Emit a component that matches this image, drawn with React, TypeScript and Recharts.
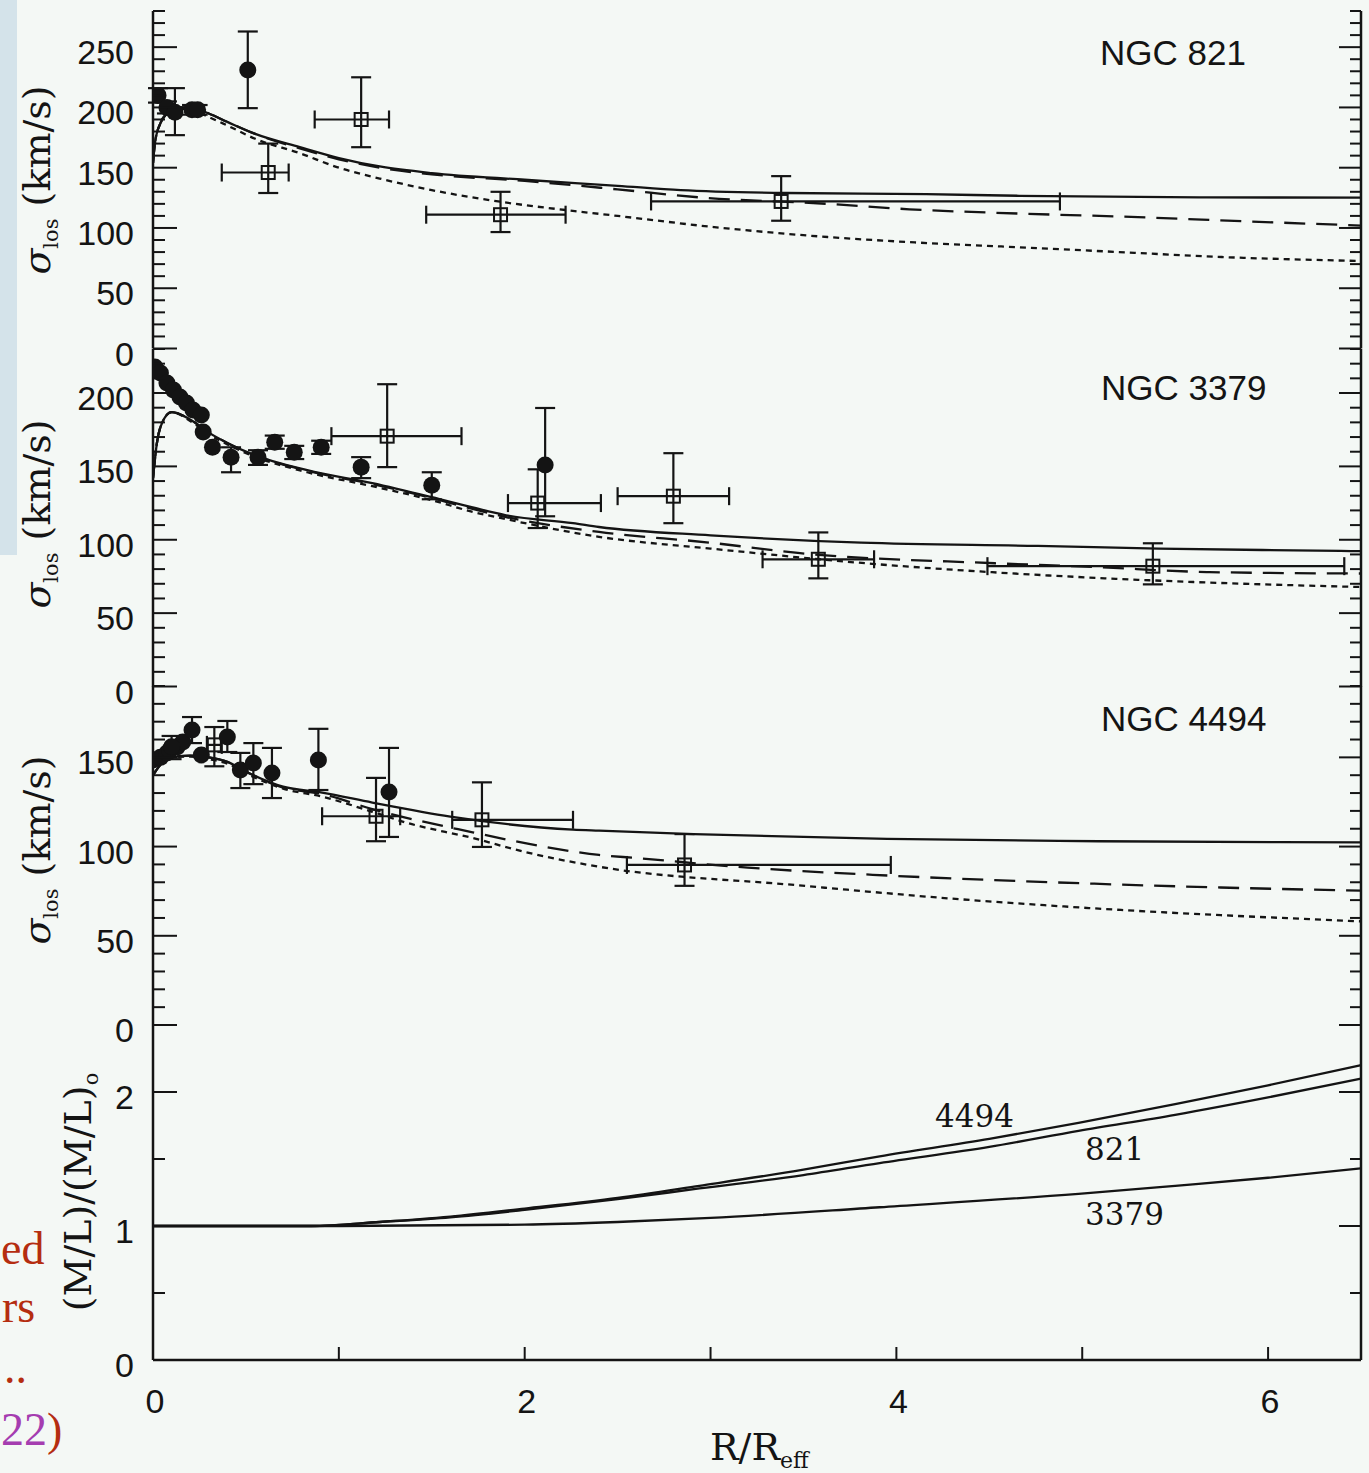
import React from "react";
import { ComposedChart, Line, Scatter, XAxis, YAxis, ErrorBar } from "recharts";

/* page / style constants */
const W = 1369;
const H = 1473;
const INK = "#141414";
const BG = "#f4f8f5";
const SANS = "'Liberation Sans', Arial, sans-serif";
const SERIF = "'DejaVu Serif', serif";
const RED = "#b52d10";
const PURPLE = "#a53db0";

/* shared x axis: R / Reff */
const rTicks = [0, 1, 2, 3, 4, 5, 6];
const rLabels = [0, 2, 4, 6];

/* ---------- NGC 821 ---------- */
const ticks821 = [0, 10, 20, 30, 40, 50, 60, 70, 80, 90, 100, 110, 120, 130, 140, 150, 160, 170, 180, 190, 200, 210, 220, 230, 240, 250, 260, 270, 280];
const labels821 = [0, 50, 100, 150, 200, 250];
const solid821 = [[0, 154], [0.01, 170], [0.04, 187], [0.075, 195], [0.12, 200], [0.2, 200], [0.3, 195], [0.4, 188], [0.55, 178], [0.79, 167], [1.0, 158], [1.22, 151], [1.5, 145.5], [2, 140], [2.5, 135], [2.84, 131.4], [3.41, 129], [4.16, 128], [4.66, 126.7], [5.67, 125.4], [6.5, 125.2]];
const dashed821 = [[0, 154], [0.01, 170], [0.04, 187], [0.075, 195], [0.12, 200], [0.2, 200], [0.3, 195], [0.4, 188], [0.55, 178], [0.79, 166], [1.0, 157], [1.22, 150], [1.5, 144.5], [2, 139], [2.5, 132], [2.97, 125], [3.63, 120], [4.07, 115.5], [4.65, 112], [5.3, 109], [5.88, 105.5], [6.5, 102]];
const dotted821 = [[0, 154], [0.01, 170], [0.04, 187], [0.075, 195], [0.12, 199], [0.2, 198], [0.3, 192], [0.4, 185], [0.55, 174], [0.79, 162], [1.0, 150], [1.22, 141], [1.5, 131.4], [1.88, 121.5], [2.27, 114], [2.5, 110], [3.02, 100.7], [3.63, 92.5], [4.1, 88], [4.66, 84], [5.2, 80], [5.75, 75.9], [6.5, 72.6]];
// filled circles: [R, sigma, low, high]
const circles821 = [[0.027, 210, 204, 216], [0.075, 200, 195, 205], [0.118, 196, 177, 216], [0.21, 198, 194, 202], [0.24, 198, 194, 202], [0.51, 231, 199.4, 263]];
// open squares: [R, sigma, Rlow, Rhigh, low, high]
const squares821 = [[0.62, 146, 0.37, 0.73, 129, 170], [1.12, 190, 0.87, 1.27, 167, 225], [1.87, 111, 1.47, 2.22, 96.6, 130], [3.38, 122, 2.68, 4.88, 106, 143]];

/* ---------- NGC 3379 ---------- */
const ticks3379 = [0, 10, 20, 30, 40, 50, 60, 70, 80, 90, 100, 110, 120, 130, 140, 150, 160, 170, 180, 190, 200, 210, 220, 230];
const labels3379 = [0, 50, 100, 150, 200];
const solid3379 = [[0, 142], [0.02, 165], [0.05, 180], [0.1, 187], [0.2, 182], [0.3, 173], [0.4, 166], [0.52, 159], [0.83, 147.4], [1.18, 138.6], [1.5, 129], [1.72, 122], [1.9, 116.7], [2.26, 111.3], [2.4, 108.7], [3, 103], [3.81, 98], [4.76, 95.8], [5.41, 94], [6.39, 92.4], [6.5, 92.2]];
const dashed3379 = [[0, 142], [0.02, 165], [0.05, 180], [0.1, 187], [0.2, 182], [0.3, 173], [0.4, 166], [0.52, 159], [0.83, 147], [1.18, 138], [1.5, 128.5], [1.72, 121], [1.9, 115.5], [2.4, 105.3], [3, 98], [3.47, 91], [4.53, 84], [5.06, 81.5], [5.67, 78], [6.5, 77]];
const dotted3379 = [[0, 142], [0.02, 165], [0.05, 180], [0.1, 187], [0.2, 181], [0.3, 172], [0.4, 165], [0.52, 158], [0.83, 146], [1.18, 136.5], [1.5, 127], [1.72, 119], [1.9, 114], [2.4, 102], [3, 94], [3.87, 83.6], [4.8, 75.8], [5.6, 71.2], [6.5, 67.8]];
const dotsOnly3379 = [[0.01, 217.7], [0.04, 213.7], [0.075, 206.8], [0.11, 202], [0.145, 197.3], [0.18, 193.2], [0.215, 188.4], [0.26, 185], [0.27, 173.4], [0.32, 163]];
const circles3379 = [[0.42, 156.3, 146, 163], [0.565, 156.3, 151, 161], [0.655, 166.5, 162, 171], [0.76, 159.7, 155, 164], [0.905, 163, 158.5, 167.5], [1.12, 149.5, 142, 156.3], [1.5, 137.2, 127.6, 146], [2.11, 150.9, 116, 189.8]];
const squares3379 = [[1.26, 170.6, 0.96, 1.66, 149.5, 206], [2.07, 125, 1.91, 2.41, 108, 148], [2.8, 129.7, 2.5, 3.1, 111.3, 159], [3.58, 86.7, 3.28, 3.88, 73.7, 105], [5.38, 82, 4.49, 6.41, 69.6, 97.6]];

/* ---------- NGC 4494 ---------- */
const ticks4494 = [0, 10, 20, 30, 40, 50, 60, 70, 80, 90, 100, 110, 120, 130, 140, 150, 160, 170, 180, 190];
const labels4494 = [0, 50, 100, 150];
const solid4494 = [[0, 140], [0.05, 147], [0.1, 150], [0.2, 151], [0.3, 150], [0.4, 147.5], [0.52, 141], [0.7, 133.6], [0.91, 130.3], [1.18, 124.7], [1.6, 116.8], [2.26, 109.5], [2.4, 108.9], [2.91, 107], [3.95, 104.3], [5.09, 103], [6.5, 102.4]];
const dashed4494 = [[0, 140], [0.05, 147], [0.1, 150], [0.2, 151], [0.3, 150], [0.4, 147.5], [0.52, 141], [0.7, 133], [0.91, 129.5], [1.18, 121], [1.72, 108], [2.1, 100], [2.4, 95.3], [2.6, 93.6], [3.2, 88.2], [3.97, 83.7], [5.06, 79.2], [6.4, 75.5], [6.5, 75.3]];
const dotted4494 = [[0, 140], [0.05, 147], [0.1, 150], [0.2, 150.5], [0.3, 149], [0.4, 146.5], [0.52, 140], [0.7, 132.5], [0.91, 128], [1.18, 119.5], [1.37, 113.2], [1.72, 104.8], [2.0, 97], [2.4, 88.7], [3.47, 78.3], [4.34, 70.5], [5.06, 65.4], [6.5, 58.1]];
const dotsOnly4494 = [[0, 148.5], [0.04, 150], [0.075, 152.5], [0.09, 154], [0.13, 155.8], [0.16, 158.6], [0.26, 151.3]];
const circles4494 = [[0.1, 156, 149, 162], [0.21, 165.4, 158, 172.6], [0.4, 161.4, 153, 170.4], [0.47, 142.9, 132.8, 152.5], [0.54, 146.9, 135, 158], [0.64, 141.3, 127.2, 155.3], [0.89, 148.5, 131.7, 166], [1.27, 130.6, 105.4, 155.3]];
const squares4494 = [[0.33, 157, 0.29, 0.37, 145, 167], [1.2, 117, 0.91, 1.33, 103, 138.5], [1.77, 115, 1.61, 2.26, 99.8, 136], [2.86, 89.7, 2.55, 3.97, 78, 107]];

/* ---------- (M/L)/(M/L)o ---------- */
const ticksML = [0, 0.5, 1, 1.5, 2, 2.5];
const labelsML = [0, 1, 2];
const ml4494 = [[0, 1], [0.85, 1], [1.22, 1.03], [1.6, 1.07], [2, 1.13], [2.5, 1.21], [2.94, 1.3], [3.5, 1.42], [3.91, 1.52], [4.5, 1.65], [4.98, 1.77], [5.5, 1.91], [6, 2.05], [6.5, 2.2]];
const ml821 = [[0, 1], [0.85, 1], [1.22, 1.03], [1.6, 1.065], [2, 1.12], [2.5, 1.2], [2.94, 1.28], [3.5, 1.38], [3.91, 1.47], [4.5, 1.59], [4.98, 1.71], [5.5, 1.83], [6, 1.96], [6.5, 2.1]];
const ml3379 = [[0, 1], [1, 1], [2, 1.01], [2.5, 1.03], [3, 1.06], [3.91, 1.14], [4.98, 1.24], [5.5, 1.3], [6, 1.36], [6.5, 1.43]];

/* data helpers */
const toLine = (a: number[][]) => a.map(([r, v]) => ({ r, v }));
const toDots = (a: number[][]) => a.map(([r, v, lo, hi]) => ({ r, v, ey: [v - lo, hi - v] }));
const toBoxes = (a: number[][]) =>
  a.map(([r, v, r0, r1, lo, hi]) => ({ r, v, ex: [r - r0, r1 - r], ey: [v - lo, hi - v] }));

/* marker shapes */
const DotShape = (p: any) => <circle cx={p.cx} cy={p.cy} r={8.5} fill={INK} />;
const BoxShape = (p: any) => (
  <rect x={p.cx - 6.5} y={p.cy - 6.5} width={13} height={13} fill="none" stroke={INK} strokeWidth={2} />
);

/* inward ticks */
const leftTick = (labels: number[]) => (p: any) => {
  const v = p.payload.value;
  const major = labels.includes(v);
  return (
    <g>
      <line x1={p.x} x2={p.x + (major ? 24 : 12)} y1={p.y} y2={p.y} stroke={INK} strokeWidth={2} />
      {major ? (
        <text x={p.x - 19} y={p.y + 17} textAnchor="end" fontFamily={SANS} fontSize={34} fill={INK}>
          {v}
        </text>
      ) : null}
    </g>
  );
};
const rightTick = (labels: number[]) => (p: any) => {
  const major = labels.includes(p.payload.value);
  return <line x1={p.x} x2={p.x - (major ? 22 : 11)} y1={p.y} y2={p.y} stroke={INK} strokeWidth={2} />;
};
const bottomTick = (withLabels: boolean) => (p: any) => {
  const v = p.payload.value;
  return (
    <g>
      <line x1={p.x} x2={p.x} y1={p.y} y2={p.y - 13} stroke={INK} strokeWidth={2} />
      {withLabels && rLabels.includes(v) ? (
        <text x={p.x + 2} y={p.y + 53} textAnchor="middle" fontFamily={SANS} fontSize={34} fill={INK}>
          {v}
        </text>
      ) : null}
    </g>
  );
};
const topTick = (p: any) => <line x1={p.x} x2={p.x} y1={p.y} y2={p.y + 13} stroke={INK} strokeWidth={2} />;

const frame = { stroke: INK, strokeWidth: 2.5 };

function Panel({
  top,
  h,
  max,
  yTicks,
  yLabels,
  last = false,
  children,
}: {
  top: number;
  h: number;
  max: number;
  yTicks: number[];
  yLabels: number[];
  last?: boolean;
  children: React.ReactNode;
}) {
  const pad = 30;
  const xh = last ? 100 : 0;
  const bottom = last ? 0 : pad;
  return (
    <div style={{ position: "absolute", left: 0, top: top - pad }}>
      <ComposedChart width={W} height={pad + h + bottom + xh} margin={{ top: pad, right: 0, bottom, left: 0 }}>
        <XAxis
          dataKey="r"
          type="number"
          domain={[0, 6.5]}
          ticks={rTicks}
          interval={0}
          allowDataOverflow
          height={xh}
          tickSize={0}
          tickMargin={0}
          tickLine={false}
          axisLine={frame}
          tick={bottomTick(last)}
        />
        <XAxis
          xAxisId="top"
          orientation="top"
          type="number"
          domain={[0, 6.5]}
          ticks={rTicks}
          interval={0}
          allowDataOverflow
          height={0}
          tickSize={0}
          tickMargin={0}
          tickLine={false}
          axisLine={frame}
          tick={topTick}
        />
        <YAxis
          dataKey="v"
          type="number"
          domain={[0, max]}
          ticks={yTicks}
          interval={0}
          allowDataOverflow
          width={153}
          tickSize={0}
          tickMargin={0}
          tickLine={false}
          axisLine={frame}
          tick={leftTick(yLabels)}
        />
        <YAxis
          yAxisId="right"
          orientation="right"
          type="number"
          domain={[0, max]}
          ticks={yTicks}
          interval={0}
          allowDataOverflow
          width={8}
          tickSize={0}
          tickMargin={0}
          tickLine={false}
          axisLine={frame}
          tick={rightTick(yLabels)}
        />
        {children}
      </ComposedChart>
    </div>
  );
}

const modelLine = (key: string, pts: number[][], dash?: string) => (
  <Line
    key={key}
    data={toLine(pts)}
    dataKey="v"
    type="monotone"
    stroke={INK}
    strokeWidth={2.3}
    strokeDasharray={dash}
    dot={false}
    activeDot={false}
    isAnimationActive={false}
  />
);

const dotSeries = (key: string, pts: number[][]) => (
  <Scatter key={key} data={toDots(pts)} dataKey="v" shape={DotShape} isAnimationActive={false}>
    <ErrorBar dataKey="ey" direction="y" width={10} stroke={INK} strokeWidth={2.2} isAnimationActive={false} />
  </Scatter>
);

const plainDots = (key: string, pts: number[][]) => (
  <Scatter key={key} data={toLine(pts)} dataKey="v" shape={DotShape} isAnimationActive={false} />
);

const boxSeries = (key: string, pts: number[][]) => (
  <Scatter key={key} data={toBoxes(pts)} dataKey="v" shape={BoxShape} isAnimationActive={false}>
    <ErrorBar dataKey="ey" direction="y" width={10} stroke={INK} strokeWidth={2.2} isAnimationActive={false} />
    <ErrorBar dataKey="ex" direction="x" width={9} stroke={INK} strokeWidth={2.2} isAnimationActive={false} />
  </Scatter>
);

const LONG = "21 11";
const SHORT = "6 5";

function SigmaLabel({ cy }: { cy: number }) {
  return (
    <text transform={`translate(50 ${cy}) rotate(-90)`} textAnchor="middle" fontFamily={SERIF} fontSize={38} fill={INK}>
      <tspan fontStyle="italic">σ</tspan>
      <tspan fontSize={21} dy={8}>los</tspan>
      <tspan dy={-8}> (km/s)</tspan>
    </text>
  );
}

export default function App() {
  return (
    <div style={{ position: "absolute", left: 0, top: 0, width: W, height: H, background: BG, overflow: "hidden" }}>
      <div style={{ position: "absolute", left: 0, top: 0, width: 17, height: 555, background: "#d4e3ea" }} />

      <Panel top={11} h={337.5} max={280} yTicks={ticks821} yLabels={labels821}>
        {modelLine("s821", solid821)}
        {modelLine("d821", dashed821, LONG)}
        {modelLine("o821", dotted821, SHORT)}
        {boxSeries("b821", squares821)}
        {dotSeries("c821", circles821)}
      </Panel>

      <Panel top={348.5} h={337.5} max={230} yTicks={ticks3379} yLabels={labels3379}>
        {modelLine("s3379", solid3379)}
        {modelLine("d3379", dashed3379, LONG)}
        {modelLine("o3379", dotted3379, SHORT)}
        {boxSeries("b3379", squares3379)}
        {plainDots("p3379", dotsOnly3379)}
        {dotSeries("c3379", circles3379)}
      </Panel>

      <Panel top={686} h={339} max={190} yTicks={ticks4494} yLabels={labels4494}>
        {modelLine("s4494", solid4494)}
        {modelLine("d4494", dashed4494, LONG)}
        {modelLine("o4494", dotted4494, SHORT)}
        {boxSeries("b4494", squares4494)}
        {plainDots("p4494", dotsOnly4494)}
        {dotSeries("c4494", circles4494)}
      </Panel>

      <Panel top={1025} h={335} max={2.5} yTicks={ticksML} yLabels={labelsML} last>
        {modelLine("m4494", ml4494)}
        {modelLine("m821", ml821)}
        {modelLine("m3379", ml3379)}
      </Panel>

      {/* titles, panel names, curve names, slide fragments */}
      <svg width={W} height={H} style={{ position: "absolute", left: 0, top: 0, pointerEvents: "none" }}>
        <SigmaLabel cy={180} />
        <SigmaLabel cy={514} />
        <SigmaLabel cy={850} />
        <text transform="translate(91 1192) rotate(-90)" textAnchor="middle" fontFamily={SERIF} fontSize={38} fill={INK}>
          (M/L)/(M/L)<tspan fontSize={21} dy={7}>o</tspan>
        </text>
        <text x={710} y={1460} fontFamily={SERIF} fontSize={38} fill={INK}>
          R/R<tspan fontSize={22} dy={8}>eff</tspan>
        </text>

        <text x={1100} y={65} fontFamily={SANS} fontSize={35} fill={INK}>NGC 821</text>
        <text x={1101} y={400} fontFamily={SANS} fontSize={35} fill={INK}>NGC 3379</text>
        <text x={1101} y={731} fontFamily={SANS} fontSize={35} fill={INK}>NGC 4494</text>

        <text x={935} y={1127} fontFamily={SERIF} fontSize={31} fill={INK}>4494</text>
        <text x={1085} y={1160} fontFamily={SERIF} fontSize={31} fill={INK}>821</text>
        <text x={1085} y={1225} fontFamily={SERIF} fontSize={31} fill={INK}>3379</text>

        <g fontFamily="'Liberation Serif', serif" fontSize={46}>
          <text x={1} y={1264} fill={RED}>ed</text>
          <text x={2} y={1322} fill={RED}>rs</text>
          <text x={4} y={1383} fill={RED}>..</text>
          <text x={1} y={1445} fill={RED}>
            <tspan fill={PURPLE}>22</tspan>)
          </text>
        </g>
      </svg>
    </div>
  );
}
